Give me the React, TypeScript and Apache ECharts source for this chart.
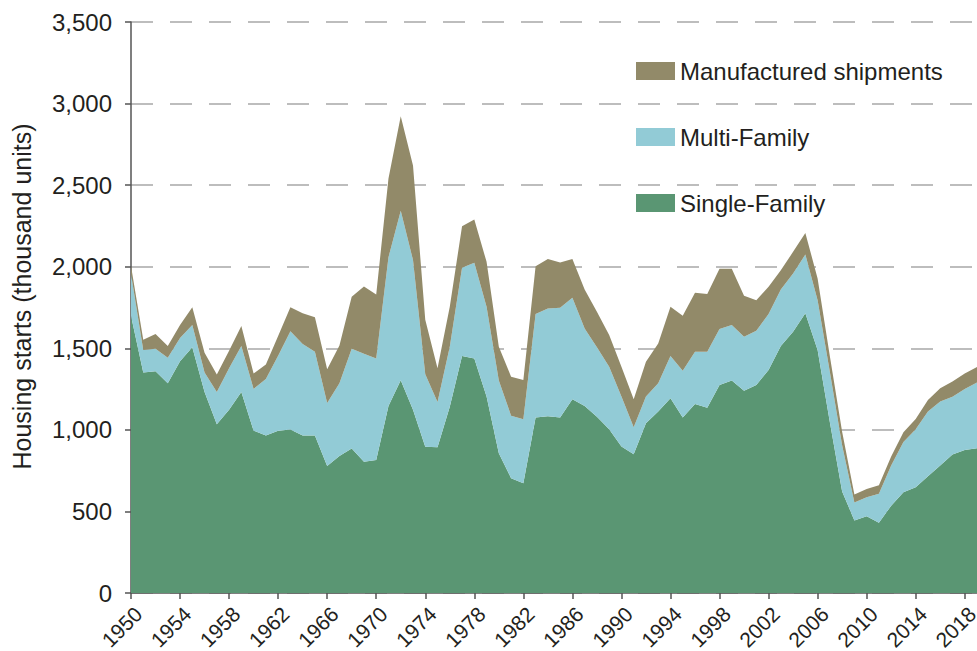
import React, { useEffect, useRef } from "react";
import * as echarts from "echarts";

const years: string[] = [];
for (let y = 1950; y <= 2019; y++) years.push(String(y));

// thousand units
const singleFamily = [
  1700, 1352, 1360, 1285, 1420, 1507, 1232, 1034, 1123, 1232,
  995, 966, 995, 1002, 966, 966, 778, 840, 886, 804,
  816, 1147, 1304, 1123, 896, 894, 1142, 1452, 1438, 1204,
  857, 704, 673, 1075, 1083, 1075, 1187, 1146, 1081, 1004,
  898, 851, 1040, 1112, 1193, 1075, 1159, 1136, 1275, 1302,
  1240, 1275, 1367, 1514, 1601, 1714, 1489, 1046, 622, 445,
  471, 431, 535, 618, 648, 715, 782, 849, 876, 888,
];

const multiFamily = [
  255, 138, 137, 157, 143, 135, 120, 198, 254, 282,
  256, 345, 459, 602, 560, 512, 386, 445, 611, 662,
  621, 911, 1039, 918, 445, 276, 368, 541, 586, 550,
  445, 383, 392, 635, 661, 673, 623, 476, 425, 383,
  306, 165, 164, 173, 259, 288, 320, 343, 343, 340,
  331, 333, 343, 346, 357, 361, 306, 309, 284, 109,
  116, 178, 246, 307, 355, 397, 392, 354, 374, 402,
];

const manufactured = [
  50, 63, 90, 72, 79, 109, 121, 108, 108, 123,
  94, 89, 121, 147, 189, 212, 208, 232, 319, 413,
  393, 483, 579, 579, 334, 207, 244, 255, 265, 276,
  208, 239, 241, 293, 304, 278, 238, 238, 218, 194,
  183, 171, 214, 245, 302, 336, 361, 353, 369, 345,
  251, 187, 167, 119, 133, 132, 133, 96, 82, 50,
  50, 52, 55, 60, 64, 71, 81, 93, 96, 95,
];

const yTicks = [0, 500, 1000, 1500, 2000, 2500, 3000, 3500];

const GREEN = "#5a9673";
const BLUE = "#92cbd6";
const KHAKI = "#928a69";
const TEXT = "#231f20";
const FONT = "'Liberation Sans', Arial, Helvetica, sans-serif";

export default function App() {
  const ref = useRef<HTMLDivElement>(null);

  useEffect(() => {
    document.body.style.margin = "0";
    if (!ref.current) return;
    const chart = echarts.init(ref.current, undefined, { renderer: "svg" });
    const mkSeries = (name: string, data: number[], color: string) => ({
      name,
      type: "line",
      stack: "total",
      data,
      symbol: "none",
      showSymbol: false,
      lineStyle: { width: 0, color },
      itemStyle: { color },
      areaStyle: { color, opacity: 1 },
      emphasis: { disabled: true },
    });
    chart.setOption({
      animation: false,
      textStyle: { fontFamily: FONT, color: TEXT },
      grid: {
        left: 131,
        right: 0,
        top: 22,
        bottom: 58,
        containLabel: false,
        outerBoundsMode: "none",
      },
      legend: {
        data: ["Manufactured shipments", "Multi-Family", "Single-Family"],
        orient: "vertical",
        left: 631,
        top: 54,
        itemWidth: 39,
        itemHeight: 18,
        itemGap: 42,
        icon: "rect",
        textStyle: { fontSize: 24, color: TEXT, fontFamily: FONT },
      },
      xAxis: {
        type: "category",
        data: years,
        boundaryGap: false,
        axisLine: { lineStyle: { color: "#555555", width: 1.5 } },
        axisTick: { interval: 3, length: 6, lineStyle: { color: "#555555", width: 1.5 } },
        axisLabel: {
          interval: 3,
          rotate: 45,
          fontSize: 21,
          color: TEXT,
          margin: 10,
          align: "right",
          verticalAlign: "top",
          fontFamily: FONT,
        },
        splitLine: { show: false },
      },
      yAxis: {
        type: "value",
        min: yTicks[0],
        max: yTicks[yTicks.length - 1],
        interval: 500,
        name: "Housing starts (thousand units)",
        nameLocation: "middle",
        nameGap: 97,
        nameTextStyle: {
          fontSize: 25,
          color: TEXT,
          fontFamily: FONT,
          padding: [0, 0, 0, 22],
        },
        axisLine: { show: true, lineStyle: { color: "#555555", width: 1.5 } },
        axisTick: { show: true, length: 6, lineStyle: { color: "#555555", width: 1.5 } },
        axisLabel: {
          fontSize: 24,
          color: TEXT,
          margin: 19,
          fontFamily: FONT,
          formatter: (v: number) => v.toLocaleString("en-US"),
        },
        splitLine: {
          show: true,
          lineStyle: { color: "#a8a8a8", width: 1.5, type: [22, 17] },
        },
      },
      series: [
        mkSeries("Single-Family", singleFamily, GREEN),
        mkSeries("Multi-Family", multiFamily, BLUE),
        mkSeries("Manufactured shipments", manufactured, KHAKI),
      ],
    });
    return () => chart.dispose();
  }, []);

  return <div ref={ref} style={{ width: 977, height: 651 }} />;
}
